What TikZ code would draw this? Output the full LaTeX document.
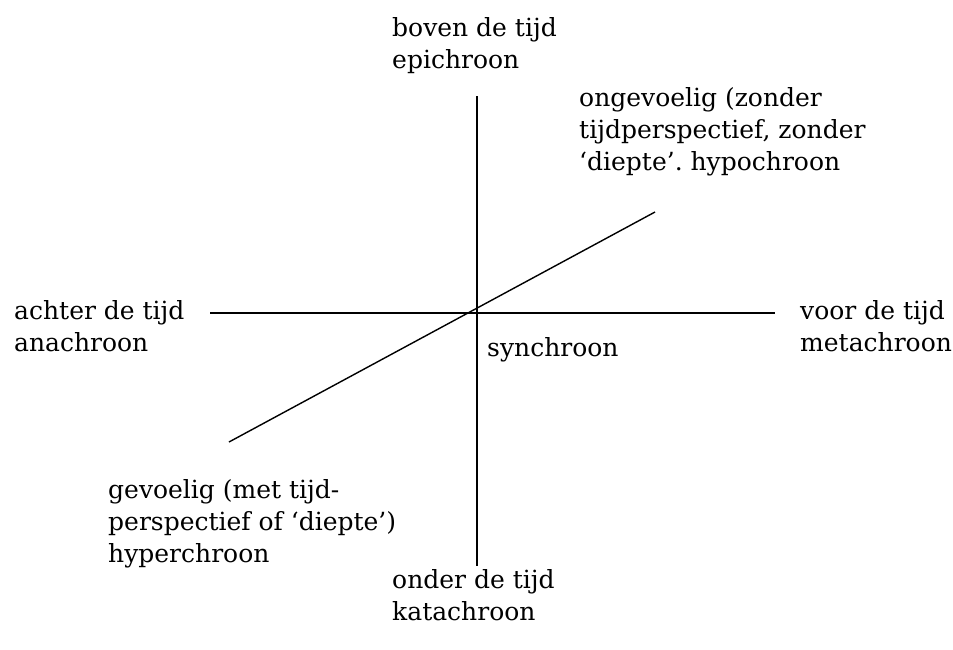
\documentclass[tikz,border=0pt]{standalone}
\usepackage{fontspec}
\setmainfont{DejaVu Serif}
\begin{document}
\frenchspacing
\begin{tikzpicture}[x=1pt,y=-1pt,
  lbl/.style={anchor=north west,inner sep=0pt,align=left,font=\fontsize{25}{32}\selectfont},
  axis/.style={line width=1.4pt}]
\useasboundingbox (0,0) rectangle (953,649);
\coordinate (vt) at (477,96);
\coordinate (vb) at (477,566);
\coordinate (hl) at (210,313);
\coordinate (hr) at (775,313);
\coordinate (dl) at (229,442);
\coordinate (dr) at (655,212);
\draw[axis] (vt) -- (vb);
\draw[axis] (hl) -- (hr);
\draw[axis] (dl) -- (dr);
\node[lbl] (boven) at (392,17) {boven de tijd\\epichroon};
\node[lbl] (onge) at (579,87) {ongevoelig (zonder\\tijdperspectief, zonder\\‘diepte’. hypochroon};
\node[lbl] (achter) at (14,300) {achter de tijd\\anachroon};
\node[lbl] (voor) at (800,300) {voor de tijd\\metachroon};
\node[lbl] (sync) at (487,337) {synchroon};
\node[lbl] (gev) at (108,479) {gevoelig (met tijd-\\perspectief of ‘diepte’)\\hyperchroon};
\node[lbl] (onder) at (392,569) {onder de tijd\\katachroon};
\end{tikzpicture}
\end{document}
